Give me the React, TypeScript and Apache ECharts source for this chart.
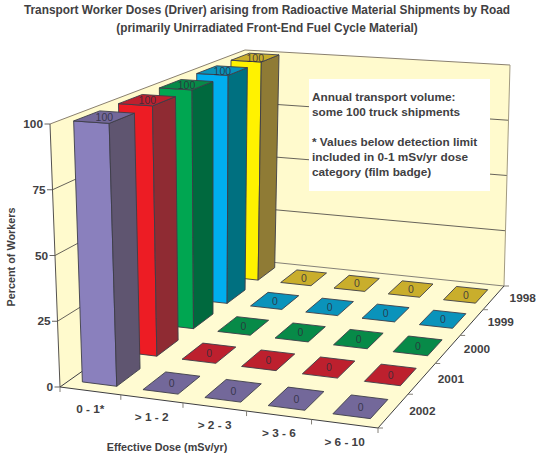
import React, { useEffect, useRef } from "react";
import * as echarts from "echarts";

const W = 536;
const H = 455;

const doses = ["0 - 1*", "> 1 - 2", "> 2 - 3", "> 3 - 6", "> 6 - 10"];
const years = ["1998", "1999", "2000", "2001", "2002"];
const pctTicks = [0, 25, 50, 75, 100];
const values1998 = [100, 0, 0, 0, 0];
const values1999 = [100, 0, 0, 0, 0];
const values2000 = [100, 0, 0, 0, 0];
const values2001 = [100, 0, 0, 0, 0];
const values2002 = [100, 0, 0, 0, 0];
const valuesByYear = [values1998, values1999, values2000, values2001, values2002];

const frontColors = ["#fff200", "#00aeef", "#00a651", "#ed1c24", "#8a80bd"];
const sideColors = ["#8f7b35", "#007080", "#00693e", "#8f2b33", "#5f5570"];
const topColors = ["#c9ae2c", "#0a93bb", "#078a48", "#bd202e", "#73689a"];

const titleText =
  "Transport Worker Doses (Driver) arising from Radioactive Material Shipments by Road\n(primarily Unirradiated Front-End Fuel Cycle Material)";
const noteLines = [
  "Annual transport volume:",
  "some 100 truck shipments",
  "",
  "* Values below detection limit",
  "included in 0-1 mSv/yr dose",
  "category (film badge)",
];

const INK = "#414042";
const WALL = "#fffacd";
const FLOOR = "#fffbd2";
const EDGE = "#3d3d48";
const INSET = 0.215;
const CELL = 100;

type Pt = [number, number];

function homography(p0: Pt, p1: Pt, p2: Pt, p3: Pt) {
  const dx1 = p1[0] - p2[0];
  const dx2 = p3[0] - p2[0];
  const dx3 = p0[0] - p1[0] + p2[0] - p3[0];
  const dy1 = p1[1] - p2[1];
  const dy2 = p3[1] - p2[1];
  const dy3 = p0[1] - p1[1] + p2[1] - p3[1];
  const det = dx1 * dy2 - dx2 * dy1;
  const g = (dx3 * dy2 - dx2 * dy3) / det;
  const h = (dx1 * dy3 - dx3 * dy1) / det;
  const a = p1[0] - p0[0] + g * p1[0];
  const b = p3[0] - p0[0] + h * p3[0];
  const d = p1[1] - p0[1] + g * p1[1];
  const e = p3[1] - p0[1] + h * p3[1];
  return (u: number, v: number): Pt => {
    const w = g * u + h * v + 1;
    return [(a * u + b * v + p0[0]) / w, (d * u + e * v + p0[1]) / w];
  };
}

const floorMap = homography([60, 387], [378, 428], [504, 286], [241, 259]);
const topMap = homography([50, 124], [375, 146], [510, 65], [245, 50]);

// u and v are in cells (0..5), z in percent
function project(u: number, v: number, z: number): Pt {
  const a = floorMap(u / 5, v / 5);
  const b = topMap(u / 5, v / 5);
  const t = z / 100;
  return [a[0] + (b[0] - a[0]) * t, a[1] + (b[1] - a[1]) * t];
}

function poly(points: Pt[], fill: string, stroke = EDGE, lineWidth = 0.9) {
  return { type: "polygon", shape: { points }, style: { fill, stroke, lineWidth, lineJoin: "round" } };
}

function seg(a: Pt, b: Pt, stroke: string, lineWidth = 0.8, z = 1) {
  return {
    type: "line",
    z,
    shape: { x1: a[0], y1: a[1], x2: b[0], y2: b[1] },
    style: { stroke, lineWidth },
  };
}

function label(text: string, x: number, y: number, font: string, align = "center", extra: any = {}) {
  return {
    type: "text",
    z: 5,
    x,
    y,
    ...extra,
    style: {
      text,
      fill: INK,
      font,
      align,
      verticalAlign: "middle",
      textAlign: align,
      textVerticalAlign: "middle",
    },
  };
}

function barRenderer(yearIdx: number) {
  return (_params: any, api: any) => {
    const dose = api.value(0);
    const val = api.value(1);
    const pos = api.coord([dose, val]);
    const uc = pos[0] / CELL;
    const z = 100 - pos[1];
    const vc = years.length - 1 - yearIdx + 0.5;
    const half = 0.5 - INSET;
    const u0 = uc - half;
    const u1 = uc + half;
    const v0 = vc - half;
    const v1 = vc + half;
    const children: any[] = [];
    if (z > 0) {
      children.push(
        poly([project(u0, v0, 0), project(u1, v0, 0), project(u1, v0, z), project(u0, v0, z)], frontColors[yearIdx]),
        poly([project(u1, v0, 0), project(u1, v1, 0), project(u1, v1, z), project(u1, v0, z)], sideColors[yearIdx])
      );
    }
    children.push(
      poly([project(u0, v0, z), project(u1, v0, z), project(u1, v1, z), project(u0, v1, z)], topColors[yearIdx])
    );
    const c = project(uc, vc, z);
    children.push({
      type: "text",
      x: c[0],
      y: c[1],
      style: {
        text: String(val),
        fill: "rgba(45,45,60,0.85)",
        font: "10.5px 'Liberation Sans', Arial, sans-serif",
        align: "center",
        verticalAlign: "middle",
      },
    });
    return { type: "group", children };
  };
}

function backdrop(): any[] {
  const els: any[] = [];
  const bold = "bold 11.8px 'Liberation Sans', Arial, sans-serif";
  const small = "bold 10.8px 'Liberation Sans', Arial, sans-serif";
  // walls and floor
  const fl = (p: Pt[], fill: string) => ({
    type: "polygon",
    z: 0,
    shape: { points: p },
    style: { fill, stroke: "none" },
  });
  els.push(fl([project(0, 0, 0), project(0, 5, 0), project(0, 5, 100), project(0, 0, 100)], WALL));
  els.push(fl([project(0, 5, 0), project(5, 5, 0), project(5, 5, 100), project(0, 5, 100)], WALL));
  els.push(fl([project(0, 0, 0), project(5, 0, 0), project(5, 5, 0), project(0, 5, 0)], FLOOR));
  // gridlines and value ticks
  pctTicks.forEach((t) => {
    if (t > 0 && t < 100) {
      els.push(seg(project(0, 0, t), project(0, 5, t), "#403c3c", 0.8));
      els.push(seg(project(0, 5, t), project(5, 5, t), "#403c3c", 0.8));
    }
    const p = project(0, 0, t);
    els.push(seg([p[0] - 5.5, p[1]], p, "#55524f", 0.9));
    els.push(label(String(t), p[0] - 7, p[1], bold, "right"));
  });
  // frame
  els.push(seg(project(0, 0, 100), project(0, 5, 100), "#8a8070", 1));
  els.push(seg(project(0, 5, 100), project(5, 5, 100), "#8a8070", 1));
  els.push(seg(project(5, 5, 0), project(5, 5, 100), "#a29a80", 1));
  els.push(seg(project(0, 0, 0), project(0, 0, 100), "#55524f", 1));
  els.push(seg(project(0, 5, 0), project(5, 5, 0), "#77736a", 0.9));
  els.push(seg(project(0, 0, 0), project(5, 0, 0), "#3d3d40", 1));
  els.push(seg(project(5, 0, 0), project(5, 5, 0), "#3d3d40", 1));
  els.push(seg(project(0, 0, 0), project(0, 5, 0), "#3d3d40", 1));
  // dose axis ticks and labels
  for (let i = 0; i <= doses.length; i++) {
    const p = project(i, 0, 0);
    els.push(seg(p, [p[0], p[1] + 5], "#77736a", 0.9));
  }
  doses.forEach((d, i) => {
    const p = project(i + 0.5, 0, 0);
    els.push(label(d, p[0], p[1] + 18, bold));
  });
  // year axis ticks and labels
  for (let i = 0; i <= years.length; i++) {
    const p = project(5, i, 0);
    els.push(seg(p, [p[0] + 5, p[1]], "#77736a", 0.9));
  }
  years.forEach((y, i) => {
    const p = project(5, years.length - 1 - i + 0.5, 0);
    els.push(label(y, p[0] + 29, p[1], bold));
  });
  // axis names
  els.push(label("Effective Dose (mSv/yr)", 167, 447, small));
  els.push(label("Percent of Workers", 11, 257, small, "center", { rotation: Math.PI / 2 }));
  // note box
  els.push({
    type: "rect",
    z: 10,
    shape: { x: 309, y: 79, width: 181, height: 112 },
    style: { fill: "#ffffff", stroke: "none" },
  });
  noteLines.forEach((line, i) => {
    if (!line) return;
    els.push({ ...label(line, 312, 97 + i * 15, bold, "left"), z: 11 });
  });
  return els;
}

export default function App() {
  const ref = useRef<HTMLDivElement>(null);
  useEffect(() => {
    if (!ref.current) return;
    const chart = echarts.init(ref.current, undefined, { renderer: "svg", width: W, height: H });
    chart.setOption({
      animation: false,
      backgroundColor: "#ffffff",
      title: {
        text: titleText,
        left: 262,
        top: -4,
        padding: 5,
        textAlign: "center",
        textStyle: {
          color: INK,
          fontFamily: "'Liberation Sans', Arial, sans-serif",
          fontWeight: "bold",
          fontSize: 11.85,
          lineHeight: 18,
        },
      },
      grid: { left: 0, top: 0, width: doses.length * CELL, height: 100, containLabel: false },
      xAxis: { type: "category", data: doses, show: false },
      yAxis: { type: "value", min: 0, max: 100, interval: 25, show: false },
      graphic: { elements: backdrop() },
      series: years.map((y, yi) => ({
        type: "custom",
        name: y,
        coordinateSystem: "cartesian2d",
        silent: true,
        clip: false,
        z: 2 + yi,
        encode: { x: 0, y: 1 },
        renderItem: barRenderer(yi),
        data: valuesByYear[yi].map((v, i) => [i, v, yi]),
      })),
    });
    return () => chart.dispose();
  }, []);
  return <div ref={ref} style={{ position: "absolute", left: 0, top: 0, width: W, height: H }} />;
}
